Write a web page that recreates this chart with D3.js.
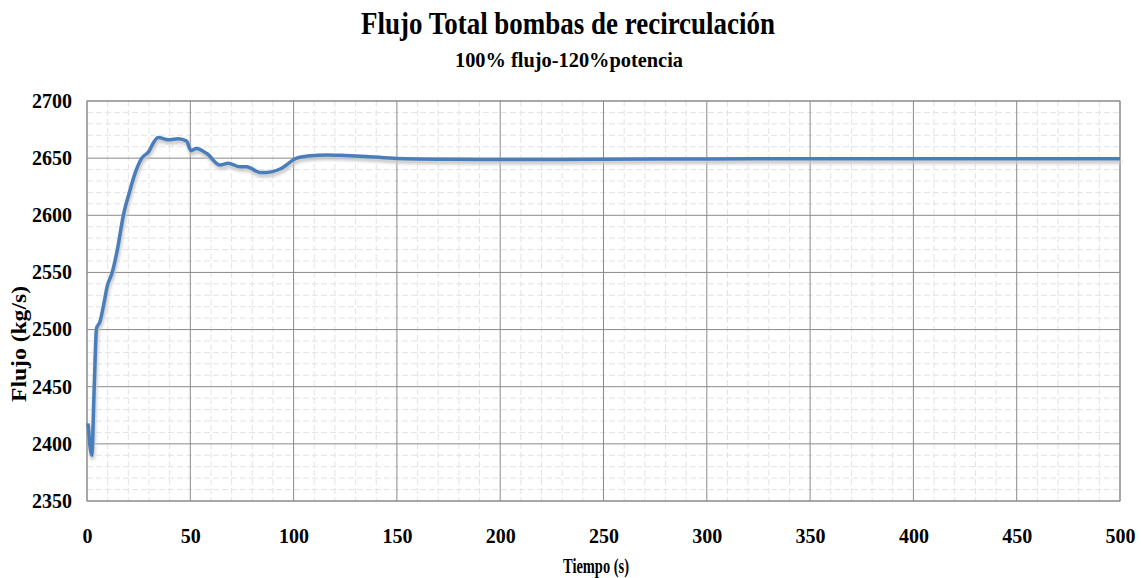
<!DOCTYPE html>
<html>
<head>
<meta charset="utf-8">
<script src="https://cdn.jsdelivr.net/npm/d3@7"></script>
<style>
  body { margin: 0; background: #fff; }
  text { font-family: "Liberation Serif", "DejaVu Serif", serif; }
</style>
</head>
<body>
<div id="chart"></div>
<script>
// values
var tiempo = [0.5, 2.3, 3.5, 4.6, 6.3, 8.2, 9.8, 12.2, 14.7, 17.6, 20.5, 23.5, 26.5, 30, 32, 34.5, 39.4, 44.2, 48.2, 50.3, 53, 58, 64.4, 68.4, 74, 77.3, 83.7, 87, 93.4, 101.5, 108, 116, 125, 135, 150, 175, 200, 250, 300, 350, 400, 450, 500];
var flujo = [2418, 2390, 2450, 2501, 2507, 2523, 2538, 2550, 2570, 2600, 2620, 2638, 2650, 2656, 2663, 2668, 2666, 2667, 2665, 2656.5, 2658.5, 2654, 2644, 2645.5, 2642.5, 2642.5, 2637.5, 2637.5, 2640.5, 2650, 2652, 2652.8, 2652.3, 2651.5, 2649.7, 2649, 2648.8, 2649, 2649.3, 2649.5, 2649.5, 2649.5, 2649.5];
var xTicks = [0, 50, 100, 150, 200, 250, 300, 350, 400, 450, 500];
var yTicks = [2350, 2400, 2450, 2500, 2550, 2600, 2650, 2700];

var width = 1141, height = 578;
var margin = {top: 101, right: 21, bottom: 77, left: 87};

var svg = d3.select("#chart")
  .append("svg")
    .attr("width", width)
    .attr("height", height);

var x = d3.scaleLinear().domain([0, 500]).range([margin.left, width - margin.right]);
var y = d3.scaleLinear().domain([2350, 2700]).range([height - margin.bottom, margin.top]);

// minor grid (every 10)
var minorX = d3.range(0, 501, 10).filter(function(d) { return d % 50 != 0; });
var minorY = d3.range(2350, 2701, 10).filter(function(d) { return d % 50 != 0; });

svg.append("g").selectAll("line")
  .data(minorX).enter().append("line")
    .attr("x1", function(d) { return x(d); })
    .attr("x2", function(d) { return x(d); })
    .attr("y1", y(2700)).attr("y2", y(2350))
    .attr("stroke", "#e3e3e3")
    .attr("stroke-dasharray", "6,3");

svg.append("g").selectAll("line")
  .data(minorY).enter().append("line")
    .attr("y1", function(d) { return y(d); })
    .attr("y2", function(d) { return y(d); })
    .attr("x1", x(0)).attr("x2", x(500))
    .attr("stroke", "#e3e3e3")
    .attr("stroke-dasharray", "6,3");

// major grid
svg.append("g").selectAll("line")
  .data(xTicks).enter().append("line")
    .attr("x1", function(d) { return x(d); })
    .attr("x2", function(d) { return x(d); })
    .attr("y1", y(2700)).attr("y2", y(2350))
    .attr("stroke", "#8a8a8a");

svg.append("g").selectAll("line")
  .data(yTicks).enter().append("line")
    .attr("y1", function(d) { return y(d); })
    .attr("y2", function(d) { return y(d); })
    .attr("x1", x(0)).attr("x2", x(500))
    .attr("stroke", "#8a8a8a");

svg.append("rect")
  .attr("x", x(0)).attr("y", y(2700))
  .attr("width", x(500) - x(0)).attr("height", y(2350) - y(2700))
  .attr("fill", "none").attr("stroke", "#8a8a8a");

// axes labels
var xAxis = svg.append("g")
  .attr("transform", "translate(0," + y(2350) + ")")
  .call(d3.axisBottom(x).tickValues(xTicks).tickFormat(d3.format("d")).tickSize(0).tickPadding(28));
xAxis.select(".domain").remove();
xAxis.selectAll("text")
  .attr("font-family", "Liberation Serif")
  .attr("font-size", 20)
  .attr("font-weight", "bold")
  .attr("fill", "#000");

var yAxis = svg.append("g")
  .attr("transform", "translate(" + x(0) + ",0)")
  .call(d3.axisLeft(y).tickValues(yTicks).tickFormat(d3.format("d")).tickSize(0).tickPadding(15));
yAxis.select(".domain").remove();
yAxis.selectAll("text")
  .attr("font-family", "Liberation Serif")
  .attr("font-size", 20)
  .attr("font-weight", "bold")
  .attr("fill", "#000");

// line with a soft shadow
var defs = svg.append("defs");
var f = defs.append("filter").attr("id", "blur").attr("x", "-5%").attr("y", "-5%").attr("width", "110%").attr("height", "110%");
f.append("feGaussianBlur").attr("stdDeviation", 1.5);

var pts = tiempo.map(function(t, i) { return [t, flujo[i]]; });
var line = d3.line()
  .x(function(d) { return x(d[0]); })
  .y(function(d) { return y(d[1]); })
  .curve(d3.curveMonotoneX);

svg.append("path")
  .datum(pts)
  .attr("d", line)
  .attr("fill", "none")
  .attr("stroke", "#c8c8c8")
  .attr("stroke-width", 4)
  .attr("transform", "translate(1,3)")
  .attr("filter", "url(#blur)");

svg.append("path")
  .datum(pts)
  .attr("d", line)
  .attr("fill", "none")
  .attr("stroke", "#4a7ebb")
  .attr("stroke-width", 3.5)
  .attr("stroke-linejoin", "round");

// titles
svg.append("text")
  .attr("x", 568).attr("y", 34)
  .attr("text-anchor", "middle")
  .attr("font-size", 31)
  .attr("font-weight", "bold")
  .attr("textLength", 414)
  .attr("lengthAdjust", "spacingAndGlyphs")
  .text("Flujo Total bombas de recirculación");

svg.append("text")
  .attr("x", 569).attr("y", 67)
  .attr("text-anchor", "middle")
  .attr("font-size", 21)
  .attr("font-weight", "bold")
  .attr("textLength", 228)
  .attr("lengthAdjust", "spacingAndGlyphs")
  .text("100% flujo-120%potencia");

svg.append("text")
  .attr("x", 596).attr("y", 573)
  .attr("text-anchor", "middle")
  .attr("font-size", 22)
  .attr("font-weight", "bold")
  .attr("textLength", 66)
  .attr("lengthAdjust", "spacingAndGlyphs")
  .text("Tiempo (s)");

svg.append("text")
  .attr("transform", "translate(26,344) rotate(-90)")
  .attr("text-anchor", "middle")
  .attr("font-size", 20)
  .attr("font-weight", "bold")
  .attr("textLength", 116)
  .attr("lengthAdjust", "spacingAndGlyphs")
  .text("Flujo (kg/s)");
</script>
</body>
</html>
